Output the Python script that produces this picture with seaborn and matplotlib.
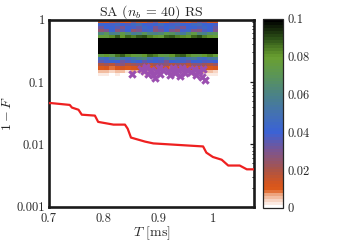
import numpy as np
import matplotlib
matplotlib.use("Agg")
import matplotlib.pyplot as plt
from matplotlib.colors import LinearSegmentedColormap
from matplotlib.ticker import FixedLocator, FixedFormatter, LogLocator, NullFormatter
import seaborn as sns

# red curve: 1 - F versus T
t_curve = [0.700, 0.704, 0.738, 0.742, 0.754, 0.760, 0.784, 0.790, 0.818, 0.839, 0.844,
           0.850, 0.876, 0.891, 0.982, 0.988, 1.000, 1.016, 1.028, 1.049, 1.062, 1.075]
f_curve = [0.046, 0.046, 0.043, 0.039, 0.036, 0.030, 0.029, 0.023, 0.0208, 0.0208, 0.0179,
           0.0129, 0.0111, 0.0104, 0.0093, 0.0074, 0.0063, 0.0057, 0.0046, 0.0046, 0.0040, 0.0040]

# purple crosses
t_pts = [0.851, 0.868, 0.874, 0.877, 0.881, 0.887, 0.890, 0.894, 0.898, 0.901, 0.903, 0.909,
         0.918, 0.921, 0.927, 0.931, 0.936, 0.940, 0.943, 0.949, 0.952, 0.960, 0.965, 0.969,
         0.974, 0.980, 0.985, 0.982]
f_pts = [0.133, 0.160, 0.149, 0.173, 0.133, 0.155, 0.129, 0.115, 0.144, 0.167, 0.133, 0.155,
         0.149, 0.129, 0.167, 0.138, 0.155, 0.124, 0.167, 0.138, 0.155, 0.144, 0.160, 0.129,
         0.149, 0.119, 0.107, 0.160]

# density map, rows top (1) to bottom, values x 1e-3, columns T = 0.79 ... 1.01
density = [
    [14, 12, 18, 22, 12, 10, 25, 15, 12, 20, 28, 14, 12, 22, 26, 16, 12, 20, 30, 24, 14, 12],
    [42, 40, 38, 45, 40, 36, 44, 48, 40, 38, 42, 46, 40, 38, 45, 42, 40, 44, 48, 42, 40, 38],
    [32, 40, 42, 35, 30, 42, 38, 33, 44, 40, 30, 36, 42, 45, 35, 30, 40, 42, 36, 44, 40, 34],
    [25, 30, 42, 28, 35, 40, 25, 30, 38, 45, 28, 32, 40, 30, 26, 38, 44, 30, 28, 36, 40, 30],
    [62, 70, 58, 60, 72, 65, 55, 60, 70, 62, 58, 64, 72, 68, 60, 56, 66, 74, 62, 58, 66, 70],
    [78, 76, 82, 88, 80, 86, 84, 88, 90, 84, 80, 78, 86, 88, 84, 82, 80, 86, 90, 84, 80, 78],
    [120] * 22,
    [120] * 22,
    [120] * 22,
    [120] * 22,
    [120] * 22,
    [75, 80, 72, 85, 88, 82, 78, 74, 80, 86, 84, 76, 72, 80, 86, 88, 82, 76, 74, 80, 84, 78],
    [48, 45, 55, 60, 50, 46, 52, 58, 62, 50, 45, 48, 56, 60, 52, 46, 50, 55, 48, 44, 52, 56],
    [35, 38, 42, 40, 32, 36, 44, 40, 34, 38, 42, 36, 30, 40, 44, 38, 34, 40, 42, 36, 38, 40],
    [20, 22, 18, 25, 28, 20, 22, 26, 24, 18, 22, 28, 25, 20, 24, 22, 18, 26, 28, 22, 20, 24],
    [10, 12, 9, 11, 13, 10, 12, 14, 11, 10, 12, 13, 11, 9, 12, 14, 10, 11, 13, 12, 10, 11],
    [5, 6, 4, 5, 6, 3, 7, 5, 4, 6, 5, 4, 6, 5, 3, 6, 5, 4, 6, 7, 5, 4],
    [2, 3, 1, 2, 0, 0, 1, 0, 2, 0, 0, 1, 0, 0, 1, 0, 0, 2, 1, 2, 3, 2],
]

x_ticks = [0.7, 0.8, 0.9, 1.0]
x_labels = ["0.7", "0.8", "0.9", "1"]
y_ticks = [0.001, 0.01, 0.1, 1]
y_labels = ["0.001", "0.01", "0.1", "1"]
cb_ticks = [0, 0.02, 0.04, 0.06, 0.08, 0.1]
cb_labels = ["0", "0.02", "0.04", "0.06", "0.08", "0.1"]

sns.set_style("white")
plt.rcParams["font.family"] = "cmr10"
plt.rcParams["mathtext.fontset"] = "cm"
plt.rcParams["axes.unicode_minus"] = False
plt.rcParams["axes.formatter.use_mathtext"] = True

cmap = LinearSegmentedColormap.from_list("dens", [
    (0.0, "#ffffff"), (0.03, "#f8d8c8"), (0.07, "#eb9a70"), (0.085, "#dd5a1a"),
    (0.12, "#d5551e"), (0.2, "#a8544a"), (0.3, "#7c5590"), (0.4, "#3a62d6"),
    (0.5, "#4472b0"), (0.6, "#4a8288"), (0.7, "#5a9458"), (0.8, "#6aa030"),
    (0.9, "#2e5418"), (1.0, "#000000")], N=64)

fig = plt.figure(figsize=(3.39, 2.42), dpi=100)
ax = fig.add_axes([0.1445, 0.145, 0.6045, 0.774])

z = np.array(density) / 1000.0
t_edges = np.linspace(0.79, 1.01, z.shape[1] + 1)
y_edges = np.logspace(0, -0.9, z.shape[0] + 1)
mesh = ax.pcolormesh(t_edges, y_edges, z, cmap=cmap, vmin=0, vmax=0.1, shading="flat")

sns.scatterplot(x=t_pts, y=f_pts, marker="X", color="#9b4fb0", s=38, linewidth=0, ax=ax, zorder=3)
sns.lineplot(x=t_curve, y=f_curve, sort=False, estimator=None, color="#ee2020", linewidth=1.6,
             ax=ax, zorder=4)

ax.set_yscale("log")
ax.set_xlim(0.7, 1.075)
ax.set_ylim(0.001, 1)
ax.xaxis.set_major_locator(FixedLocator(x_ticks))
ax.xaxis.set_major_formatter(FixedFormatter(x_labels))
ax.yaxis.set_major_locator(FixedLocator(y_ticks))
ax.yaxis.set_major_formatter(FixedFormatter(y_labels))
ax.yaxis.set_minor_locator(LogLocator(base=10, subs=np.arange(2, 10)))
ax.yaxis.set_minor_formatter(NullFormatter())
ax.tick_params(which="both", direction="in", top=True, right=True, labelsize=9,
               color="#1a1a1a")
ax.tick_params(axis="x", pad=4)
ax.tick_params(axis="y", pad=3)
ax.tick_params(which="major", length=3, width=0.9)
ax.tick_params(which="minor", length=1.8, width=0.7)
for sp in ax.spines.values():
    sp.set_linewidth(1.9)
    sp.set_color("#1a1a1a")

ax.set_title(r"SA ($n_b\,=\,40$) RS", fontsize=10, pad=3)
ax.set_xlabel(r"$T$ [ms]", fontsize=10, labelpad=0)
ax.set_ylabel(r"$1 - F$", fontsize=10, labelpad=2)

cax = fig.add_axes([0.776, 0.141, 0.059, 0.781])
cb = fig.colorbar(mesh, cax=cax)
cb.set_ticks(cb_ticks)
cb.set_ticklabels(cb_labels)
cax.minorticks_off()
cb.outline.set_linewidth(0.9)
cax.tick_params(direction="in", length=2, width=0.6, labelsize=9, pad=3)

fig.savefig("out.png", dpi=100)
